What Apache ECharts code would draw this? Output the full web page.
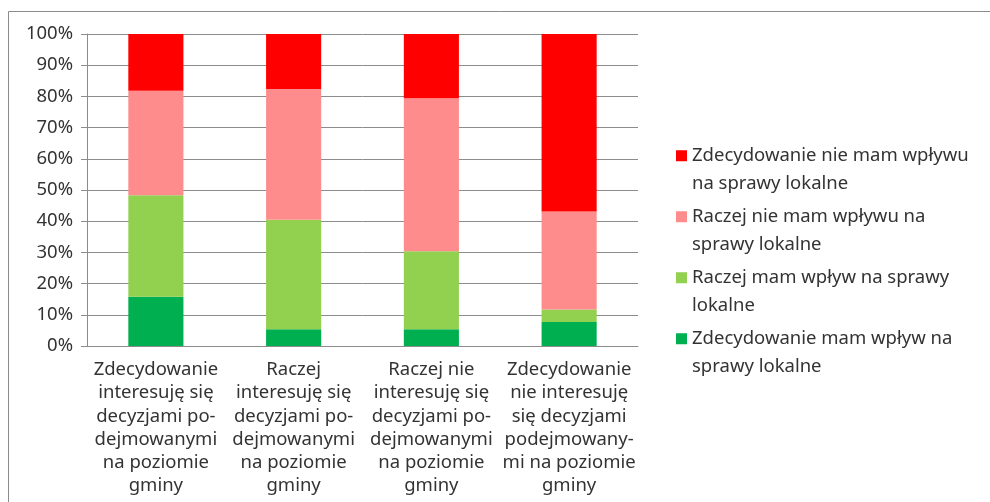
<!DOCTYPE html>
<html>
<head>
<meta charset="utf-8">
<script src="https://cdn.jsdelivr.net/npm/echarts@6/dist/echarts.min.js"></script>
<style>
  html, body { margin: 0; padding: 0; background: #fff; }
  #chart { width: 990px; height: 502px; }
</style>
</head>
<body>
<div id="chart"></div>
<script>
// categories (line breaks as in the original)
const categories = [
  'Zdecydowanie\ninteresuję się\ndecyzjami po-\ndejmowanymi\nna poziomie\ngminy',
  'Raczej\ninteresuję się\ndecyzjami po-\ndejmowanymi\nna poziomie\ngminy',
  'Raczej nie\ninteresuję się\ndecyzjami po-\ndejmowanymi\nna poziomie\ngminy',
  'Zdecydowanie\nnie interesuję\nsię decyzjami\npodejmowany-\nmi na poziomie\ngminy'
]

// shares in %, stacked bottom to top
const zdecydowanieMam = [15.8, 5.4, 5.4, 7.7]
const raczejMam = [32.5, 35.1, 25.0, 4.0]
const raczejNieMam = [33.5, 41.9, 49.0, 31.4]
const zdecydowanieNieMam = [18.2, 17.6, 20.6, 56.9]

const yTicks = [0, 10, 20, 30, 40, 50, 60, 70, 80, 90, 100]

const names = [
  'Zdecydowanie mam wpływ na sprawy lokalne',
  'Raczej mam wpływ na sprawy lokalne',
  'Raczej nie mam wpływu na sprawy lokalne',
  'Zdecydowanie nie mam wpływu na sprawy lokalne'
]
const legendText = {
  'Zdecydowanie nie mam wpływu na sprawy lokalne': 'Zdecydowanie nie mam wpływu\nna sprawy lokalne',
  'Raczej nie mam wpływu na sprawy lokalne': 'Raczej nie mam wpływu na\nsprawy lokalne',
  'Raczej mam wpływ na sprawy lokalne': 'Raczej mam wpływ na sprawy\nlokalne',
  'Zdecydowanie mam wpływ na sprawy lokalne': 'Zdecydowanie mam wpływ na\nsprawy lokalne'
}
const colors = ['#00b050', '#92d050', '#ff8c8c', '#ff0000']
const values = [zdecydowanieMam, raczejMam, raczejNieMam, zdecydowanieNieMam]

const font = '"Noto Sans", "Open Sans", sans-serif'
const gray = '#8c8c8c'
const fs = 18.5

const chart = echarts.init(document.getElementById('chart'))
chart.setOption({
  animation: false,
  textStyle: { fontFamily: font },
  graphic: [
    {
      type: 'rect',
      shape: { x: 8.5, y: 11.5, width: 1000, height: 600 },
      style: { fill: 'none', stroke: gray, lineWidth: 1 },
      silent: true
    }
  ],
  legend: {
    left: 671,
    top: 137,
    orient: 'vertical',
    itemWidth: 11,
    itemHeight: 38.5,
    itemGap: 6,
    // square on the first text line
    icon: 'path://M0,0h11v11h-11z M0,38.5h0.01v0.01h-0.01z',
    data: names.slice().reverse(),
    formatter: n => legendText[n],
    textStyle: { fontSize: fs, color: '#333', lineHeight: 27.5, fontFamily: font }
  },
  grid: { left: 87, right: 352, top: 34, bottom: 156 },
  xAxis: {
    type: 'category',
    data: categories,
    axisLine: { lineStyle: { color: gray } },
    axisTick: { length: 6, lineStyle: { color: gray } },
    axisLabel: {
      interval: 0,
      margin: 12,
      fontSize: fs,
      lineHeight: 23.3,
      color: '#333',
      fontFamily: font
    }
  },
  yAxis: {
    type: 'value',
    min: 0,
    max: 100,
    interval: 10,
    axisLine: { show: true, lineStyle: { color: gray } },
    axisTick: { show: true, length: 6, lineStyle: { color: gray } },
    splitLine: { lineStyle: { color: gray } },
    axisLabel: {
      margin: 14,
      fontSize: fs,
      color: '#333',
      fontFamily: font,
      formatter: v => (yTicks.includes(v) ? v + '%' : '')
    }
  },
  series: names.map((n, i) => ({
    name: n,
    type: 'bar',
    stack: 'total',
    barWidth: '40%',
    itemStyle: { color: colors[i] },
    data: values[i]
  }))
})
</script>
</body>
</html>
